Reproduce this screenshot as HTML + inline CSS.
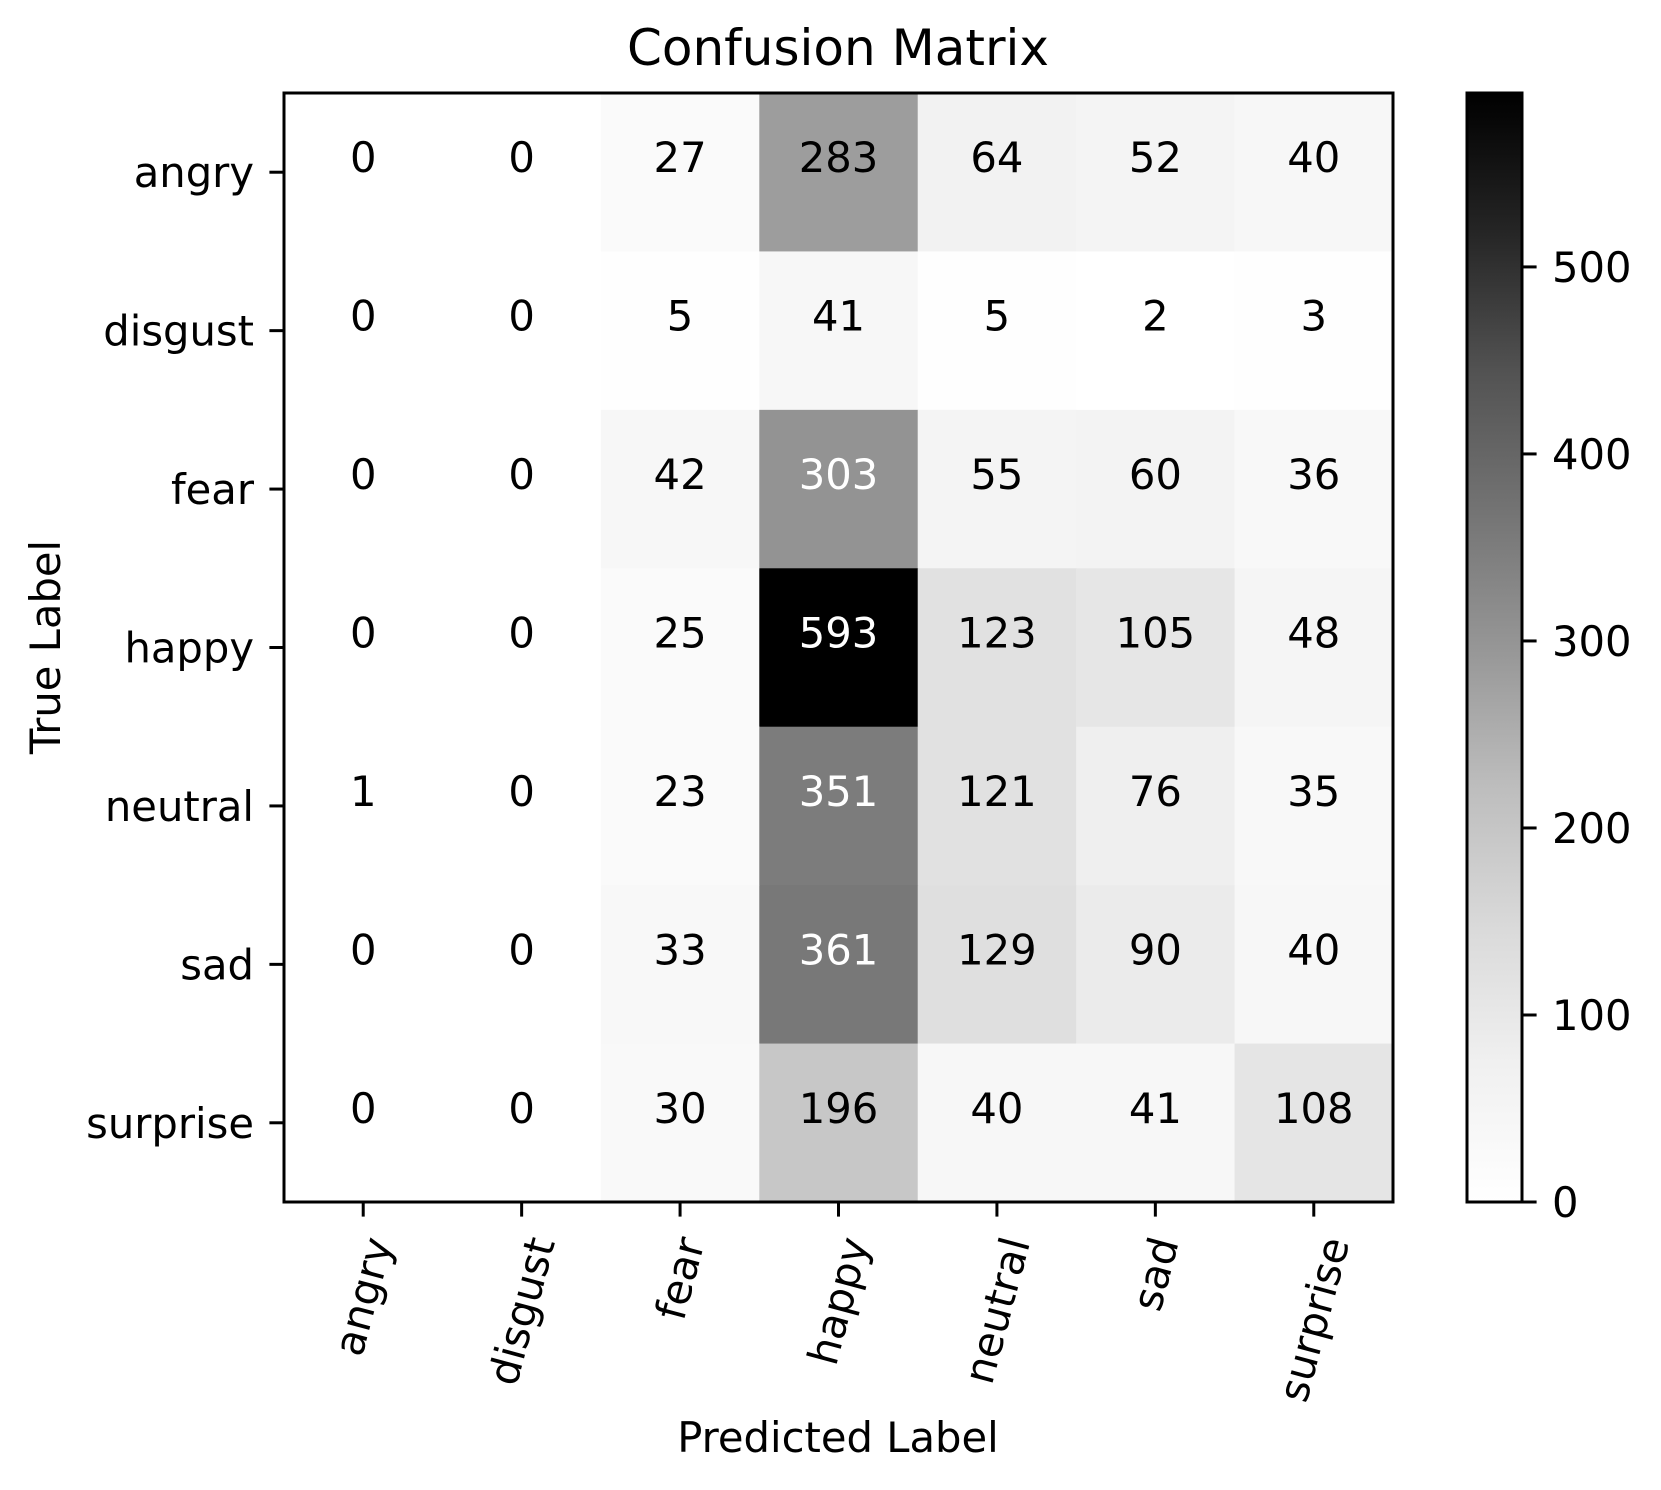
<!DOCTYPE html>
<html><head><meta charset="utf-8"><style>
html,body{margin:0;padding:0;background:#fff;}
svg{display:block;font-family:"DejaVu Sans","Liberation Sans",sans-serif;}
</style></head><body>
<svg id="chart" width="1661" height="1490" viewBox="0 0 1661 1490">
<text x="838" y="65" font-size="50" text-anchor="middle">Confusion Matrix</text>
<g id="cells"></g>
<g id="vals"></g>
<rect x="284" y="93" width="1109" height="1109" fill="none" stroke="#000" stroke-width="3"/>
<g id="yt"></g>
<g id="xt"></g>
<text x="838" y="1452" font-size="41.7" text-anchor="middle">Predicted Label</text>
<text transform="translate(60,647) rotate(-90)" font-size="41.7" text-anchor="middle">True Label</text>
<defs><linearGradient id="cbg" x1="0" y1="1" x2="0" y2="0">
<stop offset="0" stop-color="#ffffff"/><stop offset="0.125" stop-color="#f0f0f0"/><stop offset="0.25" stop-color="#d9d9d9"/><stop offset="0.375" stop-color="#bdbdbd"/><stop offset="0.5" stop-color="#969696"/><stop offset="0.625" stop-color="#737373"/><stop offset="0.75" stop-color="#525252"/><stop offset="0.875" stop-color="#252525"/><stop offset="1" stop-color="#000000"/>
</linearGradient></defs>
<rect x="1467" y="93" width="55" height="1109" fill="url(#cbg)" stroke="#000" stroke-width="3"/>
<g id="cbt"></g>
</svg>
<script>
const categories = ["angry","disgust","fear","happy","neutral","sad","surprise"];
const rowAngry = [0,0,27,283,64,52,40];
const rowDisgust = [0,0,5,41,5,2,3];
const rowFear = [0,0,42,303,55,60,36];
const rowHappy = [0,0,25,593,123,105,48];
const rowNeutral = [1,0,23,351,121,76,35];
const rowSad = [0,0,33,361,129,90,40];
const rowSurprise = [0,0,30,196,40,41,108];
const colorbarTicks = [0,100,200,300,400,500];

const matrix = [rowAngry,rowDisgust,rowFear,rowHappy,rowNeutral,rowSad,rowSurprise];
const NS = "http://www.w3.org/2000/svg";
const L=284,T=93,W=1109,H=1109,n=categories.length,cw=W/n,ch=H/n;
const vmax = Math.max(...matrix.flat());
const vmin = 0;
const xPos = i => L + cw*(i+0.5);
const yPos = i => T + ch*(i+0.5);
const cbY = v => 1202 - (v-vmin)/(vmax-vmin)*1109;
const greys=[255,240,217,189,150,115,82,37,0];
function grey(v){
  let t=(v-vmin)/(vmax-vmin); t=Math.max(0,Math.min(1,t));
  const p=t*8, i=Math.min(7,Math.floor(p)), f=p-i;
  const g=Math.round(greys[i]+(greys[i+1]-greys[i])*f);
  return `rgb(${g},${g},${g})`;
}
function mk(tag,attrs,parent){const e=document.createElementNS(NS,tag);for(const k in attrs)e.setAttribute(k,attrs[k]);parent.appendChild(e);return e;}
const cells=document.getElementById('cells'),vals=document.getElementById('vals');
matrix.forEach((row,r)=>row.forEach((v,c)=>{
  const rc=mk('rect',{x:L+c*cw,y:T+r*ch,width:cw+0.5,height:ch+0.5,fill:grey(v)},cells);
  
  
  const t=mk('text',{x:xPos(c),y:yPos(r),'font-size':41.7,'text-anchor':'middle',fill:v>vmax/2?'#fff':'#000'},vals);
  t.textContent=v;
  
  
}));
const yt=document.getElementById('yt'),xt=document.getElementById('xt');
categories.forEach((c,i)=>{
  const y=yPos(i);
  const tk=mk('line',{x1:L-14.6,x2:L,y1:y,y2:y,stroke:'#000','stroke-width':3},yt);
  
  
  const lb=mk('text',{x:254,y:y+15,'font-size':41.7,'text-anchor':'end'},yt);
  lb.textContent=c;
  
  
  const x=xPos(i);
  const tx=mk('line',{x1:x,x2:x,y1:1202,y2:1216.6,stroke:'#000','stroke-width':3},xt);
  
  
  const xl=mk('text',{'font-size':41.7,'text-anchor':'middle','dominant-baseline':'central'},xt);
  xl.textContent=c;
  
  
  const w=xl.getComputedTextLength(),h=41.7*1.17;
  const cy=1232+(w*Math.sin(75*Math.PI/180)+h*Math.cos(75*Math.PI/180))/2;
  xl.setAttribute('transform',`translate(${x},${cy}) rotate(-75)`);
});
const cbt=document.getElementById('cbt');
colorbarTicks.forEach(v=>{
  const y=cbY(v);
  const l=mk('line',{x1:1522,x2:1536.6,y1:y,y2:y,stroke:'#000','stroke-width':3},cbt);
  
  
  const t=mk('text',{x:1552,y:y+15,'font-size':41.7},cbt);
  t.textContent=v;
  
  
});
</script>
</body></html>
